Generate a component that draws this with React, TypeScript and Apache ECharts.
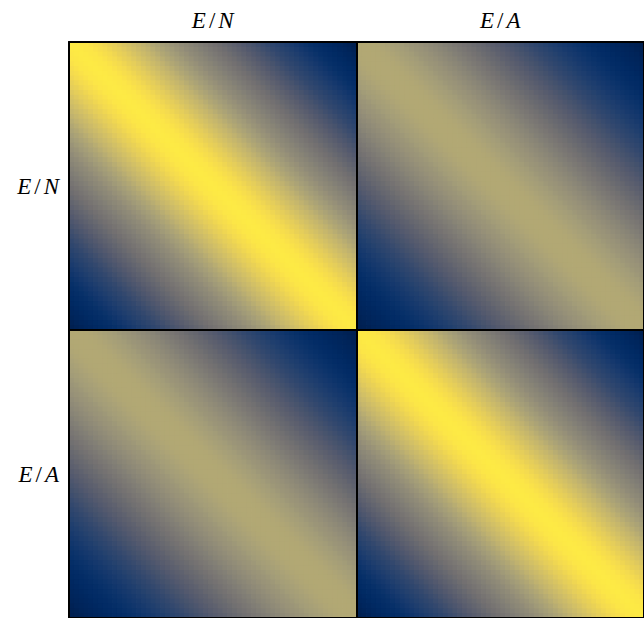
import React, { useEffect, useRef } from "react";
import * as echarts from "echarts";

// Block labels (rows and columns share them)
const blockLabels: string[] = ["E/N", "E/A"];

// Cells per block along each side
const cellsPerBlock = 60;

// Value vs. distance from the block diagonal (k = |row - col| inside a block)
// diagonal blocks (E/N–E/N, E/A–E/A)
const diagProfile: number[] = [
  1.0, 0.998, 0.99, 0.985, 0.97, 0.955, 0.94, 0.92, 0.9, 0.885,
  0.865, 0.845, 0.825, 0.805, 0.785, 0.765, 0.74, 0.715, 0.695, 0.67,
  0.65, 0.625, 0.605, 0.58, 0.56, 0.54, 0.52, 0.5, 0.48, 0.46,
  0.44, 0.42, 0.4, 0.38, 0.36, 0.34, 0.32, 0.3, 0.28, 0.26,
  0.245, 0.225, 0.21, 0.195, 0.18, 0.165, 0.15, 0.135, 0.12, 0.105,
  0.09, 0.08, 0.07, 0.06, 0.05, 0.04, 0.03, 0.02, 0.01, 0.0,
];
// off-diagonal blocks (E/N–E/A)
const offProfile: number[] = [
  0.72, 0.72, 0.717, 0.714, 0.71, 0.7, 0.69, 0.68, 0.67, 0.66,
  0.645, 0.63, 0.62, 0.605, 0.59, 0.575, 0.555, 0.54, 0.52, 0.505,
  0.485, 0.47, 0.45, 0.435, 0.415, 0.4, 0.385, 0.365, 0.35, 0.335,
  0.32, 0.3, 0.285, 0.27, 0.255, 0.24, 0.225, 0.21, 0.2, 0.185,
  0.17, 0.16, 0.145, 0.135, 0.125, 0.11, 0.1, 0.09, 0.08, 0.07,
  0.065, 0.055, 0.045, 0.04, 0.03, 0.025, 0.02, 0.01, 0.005, 0.0,
];

// cividis colour map stops (style)
function cividis(t: number): string {
  const r = Math.max(0, Math.min(255, Math.round(-4.54 - t * (35.34 - t * (2381.73 - t * (6402.7 - t * (7024.72 - t * 2710.57)))))));
  const g = Math.max(0, Math.min(255, Math.round(32.49 + t * (170.73 + t * (52.82 - t * (131.46 - t * (176.58 - t * 67.37)))))));
  const b = Math.max(0, Math.min(255, Math.round(81.24 + t * (442.36 - t * (2482.43 - t * (6167.24 - t * (6614.94 - t * 2475.67)))))));
  return `rgb(${r},${g},${b})`;
}
const cividisStops: string[] = Array.from({ length: 33 }, (_, i) => cividis(i / 32));

function buildMatrix(): number[][] {
  const total = blockLabels.length * cellsPerBlock;
  const out: number[][] = [];
  for (let r = 0; r < total; r++) {
    for (let c = 0; c < total; c++) {
      const br = Math.floor(r / cellsPerBlock);
      const bc = Math.floor(c / cellsPerBlock);
      const k = Math.abs((r % cellsPerBlock) - (c % cellsPerBlock));
      const v = br === bc ? diagProfile[k] : offProfile[k];
      out.push([c, r, v]);
    }
  }
  return out;
}

export default function App() {
  const ref = useRef<HTMLDivElement>(null);
  useEffect(() => {
    if (!ref.current) return;
    const chart = echarts.init(ref.current, undefined, { renderer: "svg" });
    const total = blockLabels.length * cellsPerBlock;
    const cellCats = Array.from({ length: total }, (_, i) => String(i));
    const serif = "'Liberation Serif', 'DejaVu Serif', serif";
    const labelStyle = {
      fontSize: 23,
      color: "#000",
      fontFamily: serif,
      formatter: (v: string) => {
        const [a, b] = v.split("/");
        return `{i|${a}}{s|/}{i|${b}}`;
      },
      rich: {
        i: { fontSize: 23, fontStyle: "italic", fontFamily: serif, color: "#000" },
        s: { fontSize: 23, fontFamily: serif, color: "#000", padding: [0, 3, 0, 3] },
      },
    };
    const line = { show: true, lineStyle: { color: "#000", width: 2 } };
    chart.setOption({
      animation: false,
      backgroundColor: "#fff",
      grid: { left: 69, top: 42, width: 578, height: 577 },
      xAxis: [
        { type: "category", data: cellCats, show: false, gridIndex: 0 },
        {
          type: "category",
          data: blockLabels,
          position: "top",
          gridIndex: 0,
          z: 10,
          axisLine: line,
          axisTick: { show: false },
          splitLine: { show: true, interval: 0, lineStyle: { color: "#000", width: 2 } },
          axisLabel: { ...labelStyle, margin: 10, interval: 0 },
        },
      ],
      yAxis: [
        { type: "category", data: cellCats, show: false, inverse: true, gridIndex: 0 },
        {
          type: "category",
          data: blockLabels,
          position: "left",
          inverse: true,
          gridIndex: 0,
          z: 10,
          axisLine: line,
          axisTick: { show: false },
          splitLine: { show: true, interval: 0, lineStyle: { color: "#000", width: 2 } },
          axisLabel: { ...labelStyle, margin: 10, interval: 0 },
        },
      ],
      visualMap: {
        show: false,
        type: "continuous",
        min: 0,
        max: 1,
        dimension: 2,
        seriesIndex: 0,
        inRange: { color: cividisStops },
      },
      series: [
        {
          type: "custom",
          xAxisIndex: 0,
          yAxisIndex: 0,
          z: 2,
          encode: { x: 0, y: 1 },
          data: buildMatrix(),
          renderItem: (params: any, api: any) => {
            const p = api.coord([api.value(0), api.value(1)]);
            const s = api.size([1, 1]);
            return {
              type: "rect",
              shape: { x: p[0] - s[0] / 2, y: p[1] - s[1] / 2, width: s[0] + 0.8, height: s[1] + 0.8 },
              style: { fill: api.visual("color"), stroke: null },
            };
          },
        },
      ],
    });
    return () => chart.dispose();
  }, []);
  return (
    <div
      ref={ref}
      style={{ position: "absolute", left: 0, top: 0, width: 644, height: 618, overflow: "hidden" }}
    />
  );
}
